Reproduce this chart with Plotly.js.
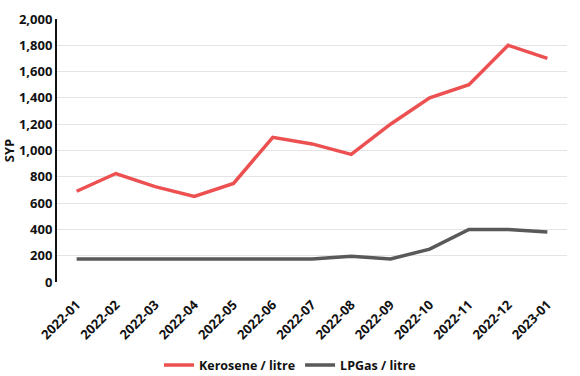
<!DOCTYPE html>
<html>
<head>
<meta charset="utf-8">
<script src="https://cdn.plot.ly/plotly-3.0.1.min.js"></script>
<style>html,body{margin:0;padding:0;background:#fff;}#chart{width:580px;height:376px;}</style>
</head>
<body>
<div id="chart"></div>
<script>
// Monthly fuel prices in Syrian pounds
const months = ["2022-01","2022-02","2022-03","2022-04","2022-05","2022-06","2022-07","2022-08","2022-09","2022-10","2022-11","2022-12","2023-01"];
const kerosene = [690, 825, 725, 650, 750, 1100, 1050, 970, 1200, 1400, 1500, 1800, 1700];
const lpgas = [175, 175, 175, 175, 175, 175, 175, 195, 175, 250, 400, 400, 380];
const yTicks = [0, 200, 400, 600, 800, 1000, 1200, 1400, 1600, 1800, 2000];

const boldFont = {family: "Open Sans, sans-serif", size: 13, color: "#111", weight: "bold"};
const legendFont = {family: "Open Sans, sans-serif", size: 12.5, color: "#111", weight: "bold"};

const traces = [
  {x: months, y: kerosene, name: "Kerosene / litre", type: "scatter", mode: "lines",
   line: {color: "#ec5050", width: 3.5}},
  {x: months, y: lpgas, name: "LPGas / litre", type: "scatter", mode: "lines",
   line: {color: "#595959", width: 3.5}}
];

const layout = {
  width: 580, height: 376,
  margin: {l: 57, r: 13, t: 19, b: 94},
  paper_bgcolor: "#fff", plot_bgcolor: "#fff",
  font: boldFont,
  showlegend: true,
  legend: {orientation: "h", x: 0.5, xanchor: "center", xref: "container",
           y: 0.068, yanchor: "top", yref: "container",
           font: legendFont, itemwidth: 30, tracegroupgap: 0},
  xaxis: {
    type: "category", range: [-0.5, months.length - 0.5], automargin: false,
    tickangle: -45, showgrid: false, showline: false, zeroline: false,
    tickfont: boldFont, ticks: "outside", ticklen: 9, tickcolor: "rgba(0,0,0,0)"
  },
  yaxis: {
    range: [0, 2000], tickvals: yTicks, automargin: false,
    ticktext: yTicks.map(v => v.toLocaleString("en-US")),
    showgrid: true, gridcolor: "#e4e4e4", gridwidth: 1,
    zeroline: false, showline: true, linecolor: "#111", linewidth: 2,
    ticks: "",
    tickfont: boldFont,
    title: {text: "SYP", standoff: 2, font: boldFont}
  }
};

Plotly.newPlot("chart", traces, layout, {displayModeBar: false, staticPlot: true});
</script>
</body>
</html>
